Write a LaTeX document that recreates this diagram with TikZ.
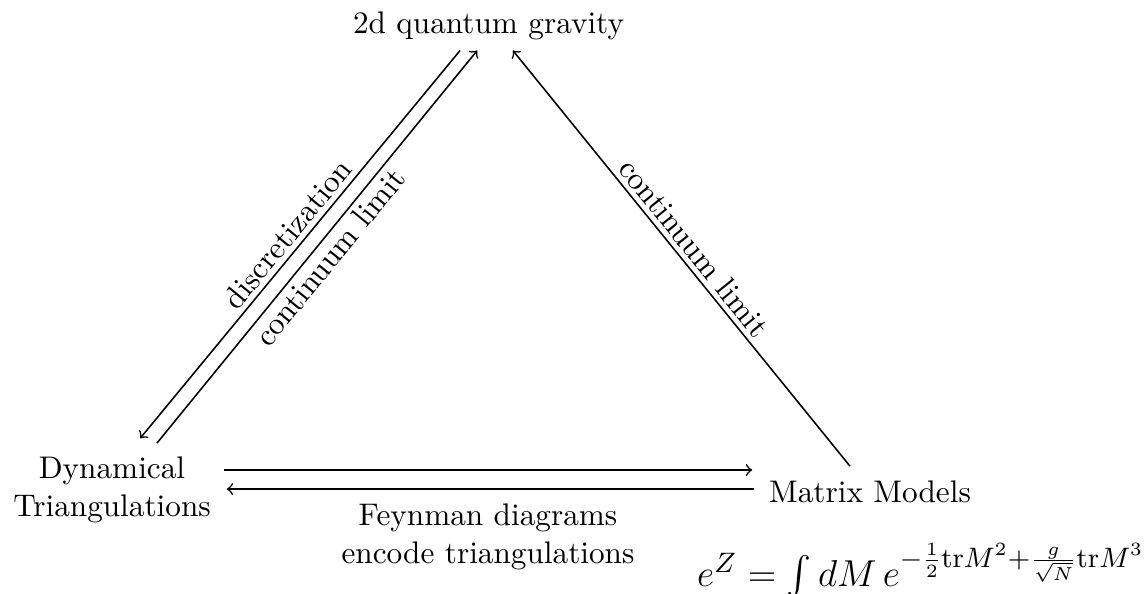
\documentclass[tikz,border=0pt]{standalone}
\usepackage{amsmath}
\begin{document}
\begin{tikzpicture}[x=0.32pt,y=-0.32pt,
  arr/.style={->,line width=0.5pt},
  lbl/.style={midway,sloped,inner sep=1.5pt},
  obj/.style={inner sep=3.33pt}]
\useasboundingbox (0,0) rectangle (1145,593);
\node[obj,anchor=base] (qg) at (488.5,33) {2d quantum gravity};
\node[obj,align=center] (dt) at (112,490) {Dynamical\\Triangulations};
\node[obj,anchor=base] (mm) at (870,502) {Matrix Models};
\node[obj,align=center] (fd) at (488,537) {Feynman diagrams\\encode triangulations};
\node[obj,anchor=base,font=\fontsize{13}{15}\selectfont] (eq) at (921,586)
  {$e^Z = \int dM\, e^{-\frac{1}{2}\mathrm{tr}M^2+\frac{g}{\sqrt{N}}\mathrm{tr}M^3}$};
% left pair
\draw[arr] ([xshift=-9.1pt]qg.south) -- ([xshift=9pt,yshift=2.5pt]dt.north)
  node[lbl,above] {discretization};
\draw[arr] ([xshift=14.4pt,yshift=1pt]dt.north) -- ([xshift=-3.6pt]qg.south)
  node[lbl,below] {continuum limit};
% right
\draw[arr] ([xshift=-6.4pt,yshift=1pt]mm.north) -- ([xshift=7.8pt]qg.south)
  node[lbl,above] {continuum limit};
% horizontal
\draw[arr,shorten <=0.6pt,shorten >=1.9pt] ([yshift=6.4pt]dt.east) -- ([yshift=6.4pt]dt.east -| mm.west);
\draw[arr,shorten <=1.2pt,shorten >=1.6pt] ([yshift=0.3pt]dt.east -| mm.west) -- ([yshift=0.3pt]dt.east);
\end{tikzpicture}
\end{document}
